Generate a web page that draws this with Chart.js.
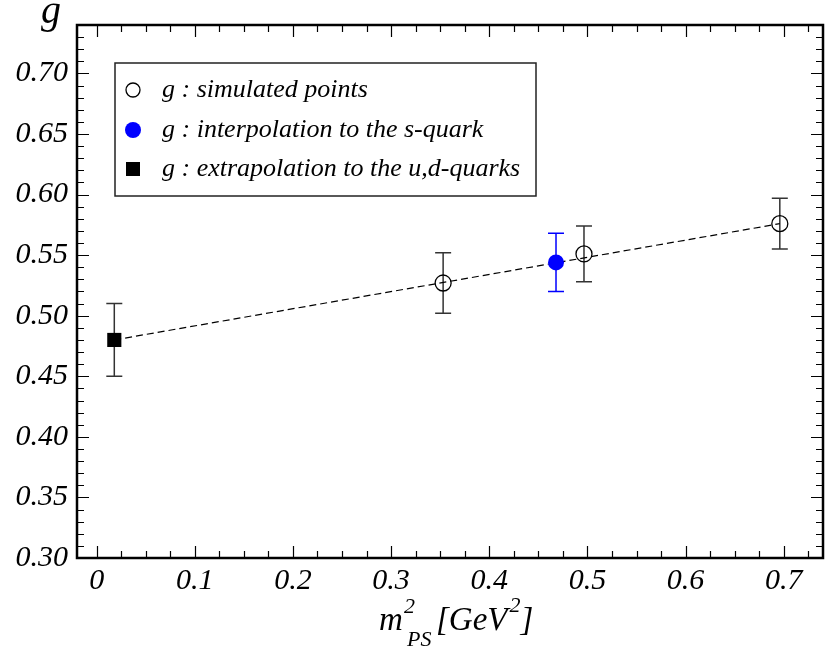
<!DOCTYPE html>
<html lang="en">

<head>
    <meta charset="UTF-8">
    <title>g vs m_PS^2</title>
    <style>
        html,
        body {
            margin: 0;
            overflow: hidden;
            background-color: #fff;
        }

        .wrap {
            position: relative;
            width: 833px;
            height: 650px;
        }

        canvas {
            display: block;
        }
    </style>
</head>

<body>
    <div class="wrap"><canvas id="chart"></canvas></div>

    <script src="https://cdn.jsdelivr.net/npm/chart.js"></script>
    <script>
        // simulated points
        const simX = [0.353, 0.4965, 0.696];
        const simY = [0.527, 0.551, 0.576];
        const simErr = [0.025, 0.023, 0.021];
        // interpolation to the s-quark
        const sX = [0.468];
        const sY = [0.544];
        const sErr = [0.024];
        // extrapolation to the u,d-quarks
        const udX = [0.018];
        const udY = [0.480];
        const udErr = [0.030];
        // dashed fit line
        const fitX = [0.018, 0.696];
        const fitY = [0.480, 0.576];

        const xTicks = [0, 0.1, 0.2, 0.3, 0.4, 0.5, 0.6, 0.7];
        const yTicks = [0.30, 0.35, 0.40, 0.45, 0.50, 0.55, 0.60, 0.65, 0.70];

        const legendLabels = ['g : simulated points', 'g : interpolation to the s-quark', 'g : extrapolation to the u,d-quarks'];

        const serif = '"Liberation Serif", "DejaVu Serif", serif';
        const toPts = (xs, ys) => xs.map((x, i) => ({ x: x, y: ys[i] }));

        // error bars, drawn under the markers
        const errorBars = {
            id: 'errorBars',
            beforeDatasetsDraw(chart) {
                const ctx = chart.ctx;
                const xs = chart.scales.x, ys = chart.scales.y;
                const sets = [[simX, simY, simErr, '#333'], [sX, sY, sErr, '#0000ff'], [udX, udY, udErr, '#333']];
                ctx.save();
                ctx.lineWidth = 1.5;
                sets.forEach(([px, py, pe, col]) => {
                    ctx.strokeStyle = col;
                    px.forEach((v, i) => {
                        const x = xs.getPixelForValue(v);
                        const y1 = ys.getPixelForValue(py[i] + pe[i]);
                        const y2 = ys.getPixelForValue(py[i] - pe[i]);
                        ctx.beginPath();
                        ctx.moveTo(x, y1); ctx.lineTo(x, y2);
                        ctx.moveTo(x - 8, y1); ctx.lineTo(x + 8, y1);
                        ctx.moveTo(x - 8, y2); ctx.lineTo(x + 8, y2);
                        ctx.stroke();
                    });
                });
                ctx.restore();
            }
        };

        // frame, inward ticks on all four sides, legend box and titles
        const decor = {
            id: 'decor',
            afterDraw(chart) {
                const ctx = chart.ctx;
                const a = chart.chartArea;
                const xs = chart.scales.x, ys = chart.scales.y;
                ctx.save();
                ctx.strokeStyle = '#000';
                ctx.lineWidth = 1.2;
                ctx.beginPath();
                for (let i = 0; ; i++) {
                    const v = i * 0.025;
                    if (v > xs.max + 1e-9) break;
                    const x = Math.round(xs.getPixelForValue(v)) + 0.5;
                    const len = i % 4 === 0 ? 12 : 7;
                    ctx.moveTo(x, a.bottom); ctx.lineTo(x, a.bottom - len);
                    ctx.moveTo(x, a.top); ctx.lineTo(x, a.top + len);
                }
                for (let i = 0; ; i++) {
                    const v = 0.30 + i * 0.01;
                    if (v > ys.max + 1e-9) break;
                    const y = Math.round(ys.getPixelForValue(v)) + 0.5;
                    const len = i % 5 === 0 ? 12 : 7;
                    ctx.moveTo(a.left, y); ctx.lineTo(a.left + len, y);
                    ctx.moveTo(a.right, y); ctx.lineTo(a.right - len, y);
                }
                ctx.stroke();

                ctx.lineWidth = 2.5;
                ctx.strokeRect(a.left, a.top, a.right - a.left, a.bottom - a.top);

                // legend
                ctx.lineWidth = 1.5;
                ctx.strokeStyle = '#222';
                ctx.fillStyle = '#fff';
                ctx.fillRect(115, 63, 421, 133);
                ctx.strokeRect(115, 63, 421, 133);
                const rows = [90, 130, 169];
                ctx.lineWidth = 1.3;
                ctx.strokeStyle = '#000';
                ctx.beginPath();
                ctx.arc(133, rows[0], 7, 0, Math.PI * 2);
                ctx.stroke();
                ctx.fillStyle = '#0000ff';
                ctx.beginPath();
                ctx.arc(133, rows[1], 8, 0, Math.PI * 2);
                ctx.fill();
                ctx.fillStyle = '#000';
                ctx.fillRect(126, rows[2] - 7, 14, 14);
                ctx.font = 'italic 26px ' + serif;
                ctx.textBaseline = 'middle';
                ctx.textAlign = 'left';
                legendLabels.forEach((t, i) => ctx.fillText(t, 162, rows[i]));

                // y title
                ctx.textBaseline = 'alphabetic';
                ctx.textAlign = 'center';
                ctx.font = 'italic 40px ' + serif;
                ctx.fillText('g', 51, 23);

                // x title: m^2_PS [GeV^2]
                ctx.textAlign = 'left';
                ctx.font = 'italic 33px ' + serif;
                ctx.fillText('m', 379, 630);
                ctx.font = 'italic 22px ' + serif;
                ctx.fillText('2', 404, 613);
                ctx.fillText('PS', 407, 646);
                ctx.font = 'italic 33px ' + serif;
                ctx.fillText('[GeV', 436, 630);
                const w = ctx.measureText('[GeV').width;
                ctx.font = 'italic 22px ' + serif;
                ctx.fillText('2', 436 + w + 2, 612);
                ctx.font = 'italic 33px ' + serif;
                ctx.fillText(']', 436 + w + 13, 630);
                ctx.restore();
            }
        };

        new Chart(document.getElementById('chart'), {
            type: 'scatter',
            data: {
                datasets: [
                    {
                        label: legendLabels[0],
                        data: toPts(simX, simY),
                        pointStyle: 'circle',
                        pointRadius: 8,
                        pointHoverRadius: 8,
                        pointBorderWidth: 1.3,
                        borderColor: '#000',
                        backgroundColor: 'rgba(0,0,0,0)',
                        order: 0
                    },
                    {
                        label: legendLabels[1],
                        data: toPts(sX, sY),
                        pointStyle: 'circle',
                        pointRadius: 8,
                        pointHoverRadius: 8,
                        borderWidth: 0,
                        borderColor: '#0000ff',
                        backgroundColor: '#0000ff',
                        order: 0
                    },
                    {
                        label: legendLabels[2],
                        data: toPts(udX, udY),
                        pointStyle: 'rect',
                        pointRadius: 10,
                        pointHoverRadius: 10,
                        borderWidth: 0,
                        backgroundColor: '#000',
                        order: 0
                    },
                    {
                        label: 'fit',
                        type: 'line',
                        data: toPts(fitX, fitY),
                        borderColor: '#000',
                        borderWidth: 1.2,
                        borderDash: [7, 4],
                        pointRadius: 0,
                        fill: false,
                        order: 10
                    }
                ]
            },
            options: {
                responsive: true,
                maintainAspectRatio: false,
                animation: false,
                events: [],
                layout: { padding: { top: 25, right: 1, left: 0, bottom: 0 } },
                plugins: {
                    legend: { display: false },
                    tooltip: { enabled: false }
                },
                scales: {
                    x: {
                        type: 'linear',
                        min: -0.02,
                        max: 0.74,
                        grid: { display: false, drawTicks: false },
                        border: { display: false },
                        afterBuildTicks: s => { s.ticks = xTicks.map(v => ({ value: v })); },
                        afterFit: s => { s.height = 92; s.paddingLeft = 0; s.paddingRight = 0; },
                        ticks: {
                            color: '#000',
                            padding: 5,
                            maxRotation: 0,
                            autoSkip: false,
                            font: { family: serif, style: 'italic', size: 30 },
                            callback: v => (v === 0 ? '0' : v.toFixed(1))
                        }
                    },
                    y: {
                        type: 'linear',
                        min: 0.30,
                        max: 0.74,
                        grid: { display: false, drawTicks: false },
                        border: { display: false },
                        afterBuildTicks: s => { s.ticks = yTicks.map(v => ({ value: v })); },
                        afterFit: s => { s.width = 77; s.paddingTop = 0; s.paddingBottom = 0; },
                        ticks: {
                            color: '#000',
                            padding: 9,
                            autoSkip: false,
                            font: { family: serif, style: 'italic', size: 30 },
                            callback: v => v.toFixed(2)
                        }
                    }
                }
            },
            plugins: [errorBars, decor]
        });
    </script>
</body>

</html>
